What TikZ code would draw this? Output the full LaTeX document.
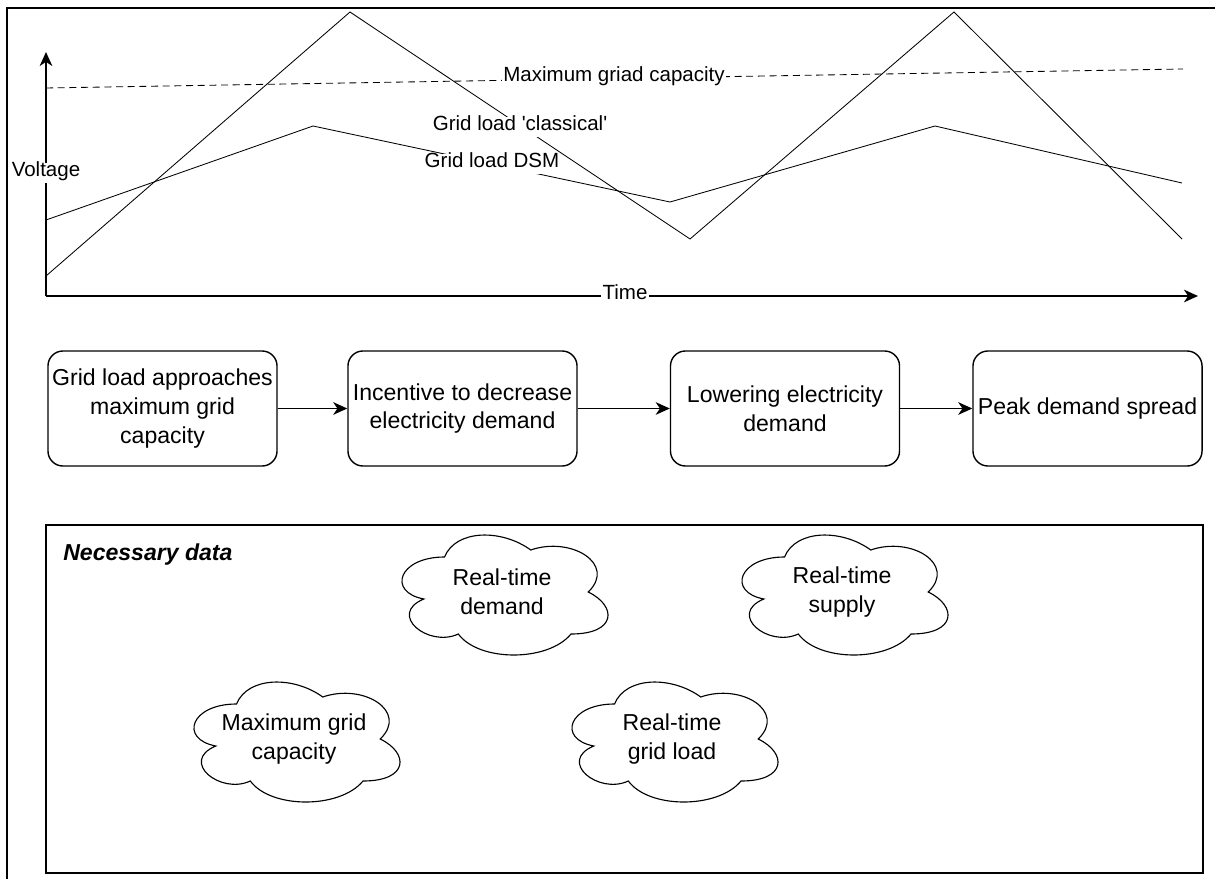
\documentclass[tikz,border=0pt]{standalone}
\usepackage{fontspec}
\setmainfont{Liberation Sans}
\usetikzlibrary{arrows.meta}

\tikzset{
  lbl/.style={fill=white, inner xsep=1pt, inner ysep=2pt, text height=0.8em, text depth=0.25em,
    font=\fontsize{14.6}{17}\selectfont},
  chartline/.style={line width=0.6pt},
  axis/.style={line width=1pt, -{Stealth[length=10pt,width=9pt,inset=3pt]}},
  stepbox/.style={draw, line width=1pt, rounded corners=0.375cm, minimum width=5.725cm,
    minimum height=2.875cm, align=center, inner sep=0pt, font=\fontsize{16.4}{20.3}\selectfont},
  datacloud/.style={align=center, inner sep=0pt, font=\fontsize{16.4}{20.3}\selectfont},
  cloudedge/.style={line width=0.8pt},
  flow/.style={line width=1pt, -{Stealth[length=10pt,width=9pt,inset=3pt]}},
}

\newcommand{\cloudoutline}[1]{%
  \draw[cloudedge, shift={(#1.center)}, xscale=2.3, yscale=1.4]
    (-25,-25) .. controls (-45,-25) and (-50,0) .. (-34,5)
    .. controls (-50,16) and (-32,40) .. (-19,30)
    .. controls (-10,50) and (20,50) .. (30,30)
    .. controls (50,30) and (50,10) .. (37.5,0)
    .. controls (50,-20) and (30,-40) .. (12.5,-30)
    .. controls (0,-45) and (-20,-45) .. (-25,-25) -- cycle;}

\begin{document}
\begin{tikzpicture}[x=0.025cm, y=-0.025cm]
  \useasboundingbox (0,0) rectangle (1215,879);
  \clip (0,0) rectangle (1215,879);
  \draw[line width=1.4pt] (7,8) rectangle (1240,900);

  % chart
  \coordinate (orig) at (46,296);
  \coordinate (ytip) at (46,52);
  \coordinate (xtip) at (1198,296);
  \draw[axis] (orig) -- (ytip);
  \draw[axis] (orig) -- (xtip);

  \draw[chartline, dash pattern=on 5pt off 3.3pt] (46,88) -- (1183,69);
  \draw[chartline] (46,276) -- (350,12) -- (690,239) -- (954,12) -- (1182,239);
  \draw[chartline] (46,220) -- (313,126) -- (670,202) -- (935,126) -- (1182,183);

  \node[lbl] (volt) at (46,173) {Voltage};
  \node[lbl] (time) at (625,296) {Time};
  \node[lbl] (capline) at (614,78) {Maximum griad capacity};
  \node[lbl] (classic) at (520,127) {Grid load \textquotesingle classical\textquotesingle};
  \node[lbl] (dsm) at (492,164) {Grid load DSM};

  % process
  \node[stepbox] (b1) at (162.5,408.5) {Grid load approaches\\maximum grid\\capacity};
  \node[stepbox] (b2) at (462.5,408.5) {Incentive to decrease\\electricity demand};
  \node[stepbox] (b3) at (785,408.5) {Lowering electricity\\demand};
  \node[stepbox] (b4) at (1087.5,408.5) {Peak demand spread};
  \foreach \a/\b in {b1/b2,b2/b3,b3/b4}
    \draw[flow] (\a) -- (\b);

  % data
  \node[draw, line width=1pt, minimum width=28.925cm, minimum height=8.7cm, inner sep=0pt]
    (data) at (624.5,699) {};
  \node[anchor=west, inner sep=0pt, font=\fontsize{16.4}{20}\selectfont\bfseries\itshape]
    (datatitle) at (63,555) {Necessary data};

  \node[datacloud] (rtdemand) at (502,592) {Real-time\\demand};
  \node[datacloud] (rtsupply) at (842,592) {Real-time\\supply};
  \node[datacloud] (maxgrid) at (294,739) {Maximum grid\\capacity};
  \node[datacloud] (rtload) at (672,739) {Real-time\\grid load};
  \foreach \c in {rtdemand,rtsupply,maxgrid,rtload}
    \cloudoutline{\c};
\end{tikzpicture}
\end{document}
